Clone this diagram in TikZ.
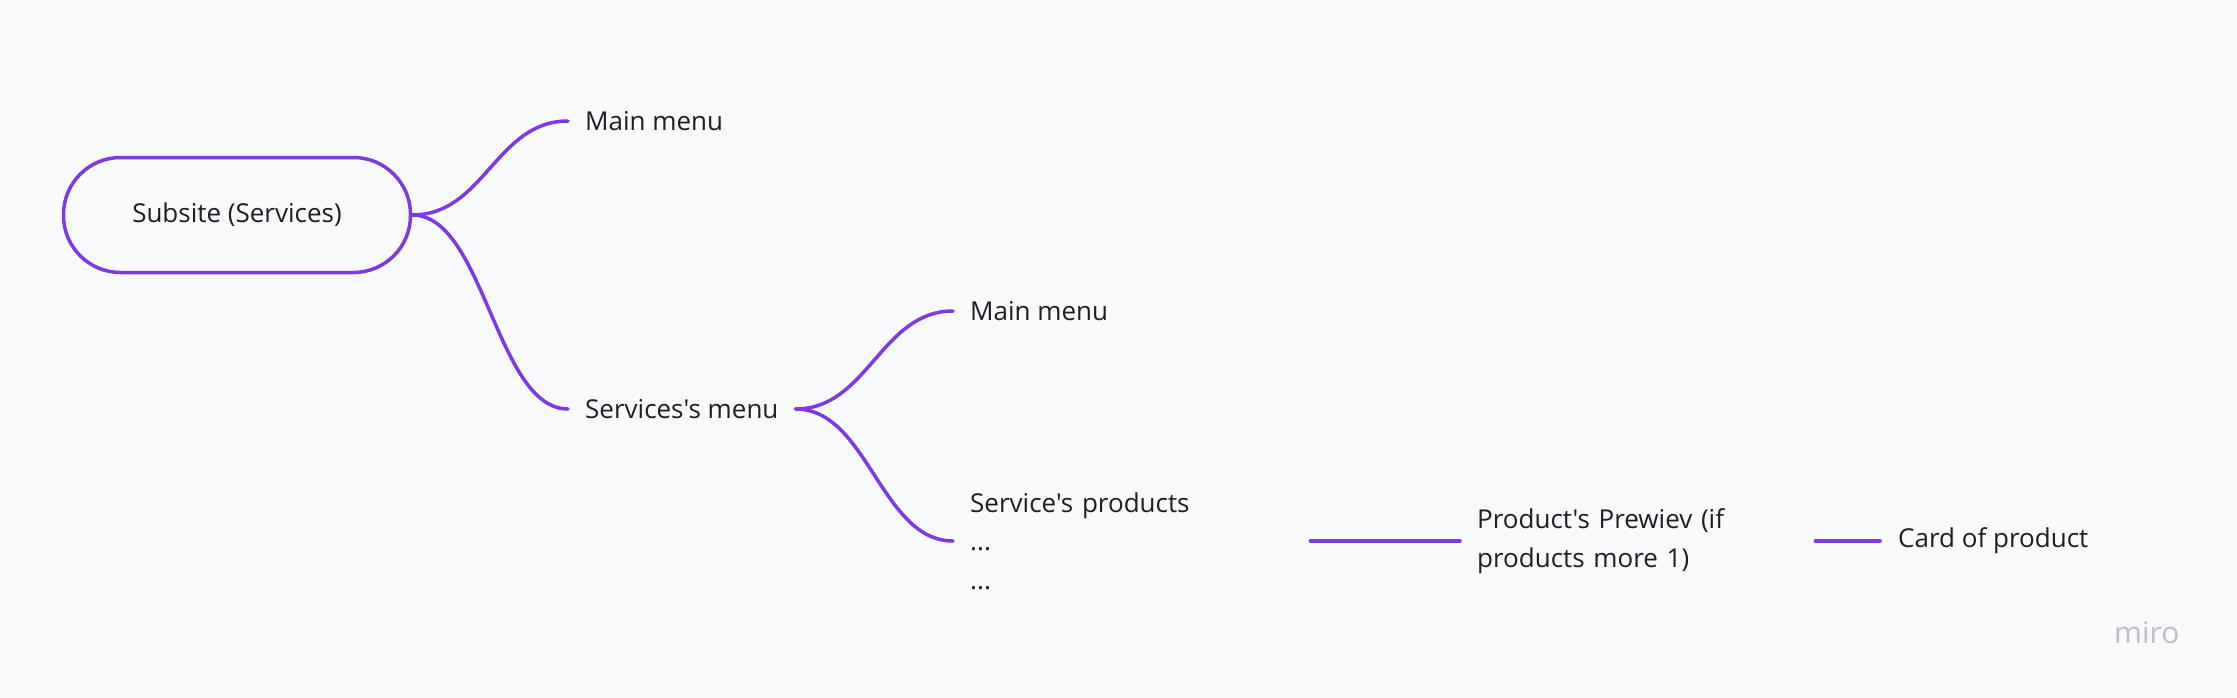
\documentclass[tikz,border=0pt]{standalone}
\usepackage{fontspec}
\setmainfont{Open Sans}[Ligatures=TeXOff]
\definecolor{bg}{RGB}{248,249,251}
\definecolor{mmpurple}{RGB}{125,58,226}
\definecolor{txt}{RGB}{30,30,36}
\definecolor{logo}{RGB}{190,190,198}
\begin{document}
\begin{tikzpicture}[x=1pt,y=-1pt,
  conn/.style={draw=mmpurple,line width=3.5pt,line cap=round},
  leaf/.style={anchor=west,inner xsep=17pt,inner ysep=0pt,text=txt,font=\fontsize{26}{38.5}\selectfont},
]
\fill[bg] (0,0) rectangle (2237,698);
\useasboundingbox (0,0) rectangle (2237,698);
\node[draw=mmpurple,line width=3.5pt,rounded corners=57pt,minimum width=347pt,minimum height=115pt,text=txt,font=\fontsize{26}{32}\selectfont] (root) at (237,215) {Subsite (Services)};
\node[leaf] (mm1) at (568,121) {Main menu};
\node[leaf] (sm) at (568,409) {Services's menu};
\node[leaf] (mm2) at (953,311) {Main menu};
\node[leaf,text width=323pt,align=left] (sp) at (953,541) {Service's products\\...\\...};
\node[leaf,text width=321pt,align=left] (pp) at (1460,541) {Product's Prewiev (if\\products more 1)};
\node[leaf,inner xsep=18pt] (cp) at (1880,541) {Card of product};
\node[text=logo,font=\fontsize{30}{30}\selectfont,anchor=west,inner sep=0pt] (logo) at (2114,633) {miro};
\draw[conn] (root.east) .. controls +(72,0) and +(-72,0) .. (mm1.west);
\draw[conn] (root.east) .. controls +(72,0) and +(-72,0) .. (sm.west);
\draw[conn] (sm.east) .. controls +(72,0) and +(-72,0) .. (mm2.west);
\draw[conn] (sm.east) .. controls +(72,0) and +(-72,0) .. (sp.west);
\draw[conn] (sp.east) -- (pp.west);
\draw[conn] (pp.east) -- (cp.west);
\end{tikzpicture}
\end{document}
